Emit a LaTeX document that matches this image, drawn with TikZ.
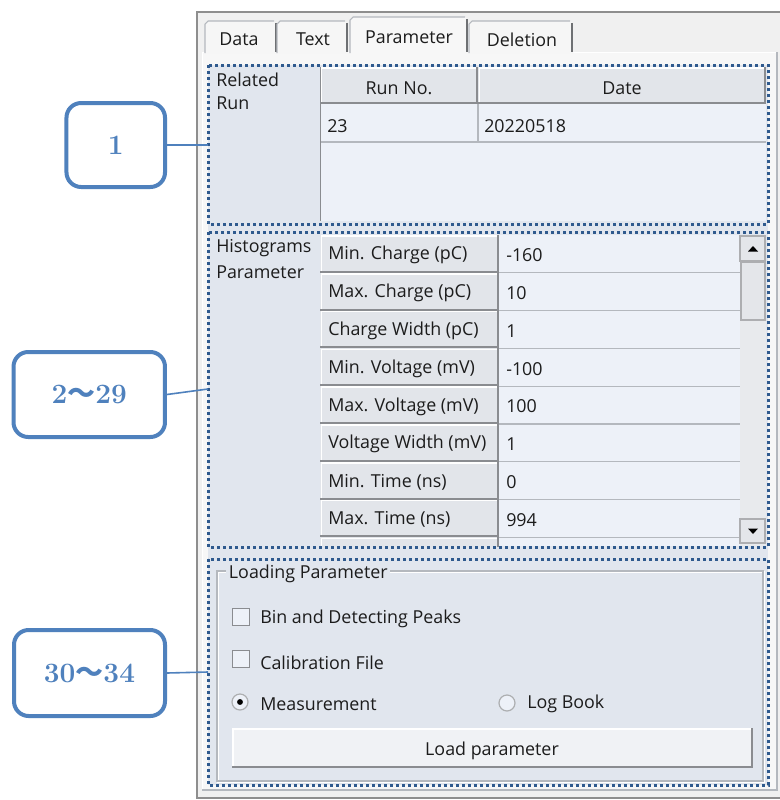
\documentclass[tikz,border=0pt]{standalone}
\usepackage{fontspec}
\newfontfamily\uifont{Open Sans}
\newfontfamily\wavefont{Noto Sans CJK JP}
\definecolor{winbg}{HTML}{F0F0F0}
\definecolor{pagebg}{HTML}{F7F7F7}
\definecolor{secbg}{HTML}{E1E6EE}
\definecolor{cellbg}{HTML}{EDF1F8}
\definecolor{headbg}{HTML}{E2E5EA}
\definecolor{gridln}{HTML}{B4B8BE}
\definecolor{edgegray}{HTML}{8A8C90}
\definecolor{frameln}{HTML}{8E8E8E}
\definecolor{dotblue}{HTML}{2F5A8E}
\definecolor{callblue}{HTML}{4F81BD}
\definecolor{uitext}{HTML}{1C1C1C}
\definecolor{scrolltrack}{HTML}{E8EAED}
\definecolor{scrollbtn}{HTML}{E4E6EA}

% raised header cell: x1 y1 x2 y2 (pixel units)
\newcommand\hdrcell[4]{%
  \fill[headbg] (#1,#2) rectangle (#3,#4);
  \draw[white, line width=1.2pt] (#1+1.5,#4-2) -- (#1+1.5,#2+1) -- (#3-2,#2+1);
  \draw[edgegray, line width=1.5pt] (#3-1,#2) -- (#3-1,#4-1) -- (#1,#4-1);
}
% tab header: x1 top x2 fill
\newcommand\tabface[4]{%
  \fill[#4] (#1,53) -- (#1,#2+3) -- (#1+3,#2) -- (#3-3,#2) -- (#3,#2+3) -- (#3,53) -- cycle;
  \draw[gridln, line width=0.8pt] (#1,53) -- (#1,#2+3) -- (#1+3,#2) -- (#3-3,#2);
  \draw[edgegray!80!black, line width=1.5pt] (#3-1,#2+2) -- (#3-1,52);
}

\begin{document}
\begin{tikzpicture}[x=0.75pt,y=-0.75pt,
  ui/.style={font=\uifont\fontsize{13.4}{16}\selectfont, text=uitext, inner sep=0pt, yshift=-1pt},
  dotbox/.style={draw=dotblue, line width=2.25pt, dash pattern=on 2.25pt off 2.25pt},
  callout/.style={draw=callblue, line width=3pt, rounded corners=11pt, fill=white,
    text=callblue, font=\fontsize{21}{24}\selectfont\bfseries, inner sep=0pt},
  callline/.style={draw=callblue, line width=1.2pt},
  chk/.style={draw=edgegray, fill=cellbg, line width=0.8pt, minimum size=12.5pt, inner sep=0pt},
  radio/.style={circle, draw=edgegray!70, fill=cellbg, line width=0.9pt, minimum size=12pt, inner sep=0pt},
]
\useasboundingbox (0,0) rectangle (780,800);
\fill[white] (0,0) rectangle (780,800);

% window frame
\fill[winbg] (196,12) rectangle (780,798);
\draw[frameln, line width=1.5pt] (780,12) -- (196.5,12) -- (196.5,798) -- (780,798);

% tab page
\fill[pagebg] (202,52) rectangle (777,790);
\draw[white, line width=1pt] (202.5,790) -- (202.5,52.5) -- (777,52.5);
\draw[gridln, line width=0.8pt] (777,52) -- (777,790) -- (202,790);

% tabs
\tabface{205}{21}{277}{winbg!60!white}
\tabface{277}{21}{348}{winbg!60!white}
\tabface{469}{21}{573}{winbg!60!white}
\tabface{350}{17}{468}{pagebg}
\node[ui] (tabdata) at (239,38) {Data};
\node[ui] (tabtext) at (313,38) {Text};
\node[ui] (tabparam) at (409,36) {Parameter};
\node[ui] (tabdel) at (522,38) {Deletion};

% section backgrounds
\fill[secbg] (208,65) rectangle (768,785);

% ---- Related Run ----
\node[ui, anchor=west] (rrA) at (216,78) {Related};
\node[ui, anchor=west] (rrB) at (216,102) {Run};
\fill[cellbg] (320,67) rectangle (766,221);
\hdrcell{320}{67}{478}{104}
\hdrcell{478}{67}{766}{104}
\draw[gridln, line width=1pt] (320,142) -- (766,142);
\draw[gridln, line width=1pt] (478,104) -- (478,142);
\draw[edgegray, line width=1.2pt] (320.5,67) -- (320.5,221);
\node[ui] (hrun) at (399,87) {Run No.};
\node[ui] (hdate) at (622,87) {Date};
\node[ui, anchor=west] (vrun) at (327,125) {23};
\node[ui, anchor=west] (vdate) at (484,125) {20220518};

% ---- Histograms Parameter ----
\node[ui, anchor=west] (hpA) at (216,247) {Histograms};
\node[ui, anchor=west] (hpB) at (216,271) {Parameter};
\begin{scope}
  \clip (318,235) rectangle (766,546);
  \fill[cellbg] (320,235) rectangle (740,546);
  \foreach \lab/\val [count=\i from 0] in {
      Min. Charge (pC)/-160, Max. Charge (pC)/10, Charge Width (pC)/1,
      Min. Voltage (mV)/-100, Max. Voltage (mV)/100, Voltage Width (mV)/1,
      Min. Time (ns)/0, Max. Time (ns)/994} {
    \pgfmathsetmacro\ya{235+37.8*\i}
    \pgfmathsetmacro\yb{\ya+37.8}
    \hdrcell{320}{\ya}{499}{\yb}
    \draw[gridln, line width=1pt] (499,\yb) -- (740,\yb);
    \node[ui, anchor=west] (hl\i) at (328,\ya+18.9) {\lab};
    \node[ui, anchor=west] (hv\i) at (506,\ya+18.9) {\val};
  }
  \hdrcell{320}{537.4}{499}{575.2}
  % scrollbar
  \fill[scrolltrack] (740,235) rectangle (766,546);
  \fill[scrollbtn] (740,236) rectangle (765,261);
  \draw[edgegray!70, line width=0.8pt] (740,236) rectangle (765,261);
  \fill[scrollbtn] (741,262) rectangle (765,320);
  \draw[edgegray!70, line width=0.8pt] (741,262) rectangle (765,320);
  \fill[scrollbtn] (740,519) rectangle (765,543);
  \draw[edgegray!70, line width=0.8pt] (740,519) rectangle (765,543);
  \fill[black] (748,251.5) -- (758,251.5) -- (753,246) -- cycle;
  \fill[black] (748,528.5) -- (758,528.5) -- (753,534) -- cycle;
\end{scope}

% ---- Loading Parameter ----
\draw[white, line width=1pt] (218,572) rectangle (764,782);
\draw[gridln, line width=1pt] (217,571) rectangle (763,781);
\node[ui, anchor=west, fill=secbg, inner xsep=2pt] (lpT) at (226,573) {Loading Parameter};
\node[chk] (cb1) at (241,617) {};
\node[ui, anchor=west] (t1) at (260,618) {Bin and Detecting Peaks};
\node[chk] (cb2) at (241,659) {};
\node[ui, anchor=west] (t2) at (260,661) {Calibration File};
\node[radio] (r1) at (240,702) {};
\fill[black] (r1.center) circle (2.2pt);
\node[ui, anchor=west] (t3) at (260,703) {Measurement};
\node[radio] (r2) at (507,703) {};
\node[ui, anchor=west] (t4) at (527,703) {Log Book};
\fill[headbg!50!white] (232,728) rectangle (752,768);
\draw[white, line width=1.2pt] (233,767) -- (233,729) -- (751,729);
\draw[edgegray, line width=1.5pt] (751.5,728) -- (751.5,767) -- (232,767);
\node[ui] (btn) at (492,750) {Load parameter};

% dotted section outlines
\draw[dotbox] (208,65) rectangle (768,224);
\draw[dotbox] (208,232) rectangle (768,547);
\draw[dotbox] (208,559) rectangle (768,785);
\coordinate (s1w) at (208,145);
\coordinate (s2w) at (208,389);
\coordinate (s3w) at (208,672);

% callouts
\node[callout, minimum width=73.9pt, minimum height=63pt] (c1) at (115.75,145) {1};
\node[callout, minimum width=113.6pt, minimum height=63.75pt] (c2) at (89.25,394.5) {2{\wavefont ～}29};
\node[callout, minimum width=113.25pt, minimum height=64.5pt] (c3) at (89.5,673) {30{\wavefont ～}34};
\draw[callline] (c1.east) -- (s1w);
\draw[callline] (c2.east) -- (s2w);
\draw[callline] (c3.east) -- (s3w);
\end{tikzpicture}
\end{document}
